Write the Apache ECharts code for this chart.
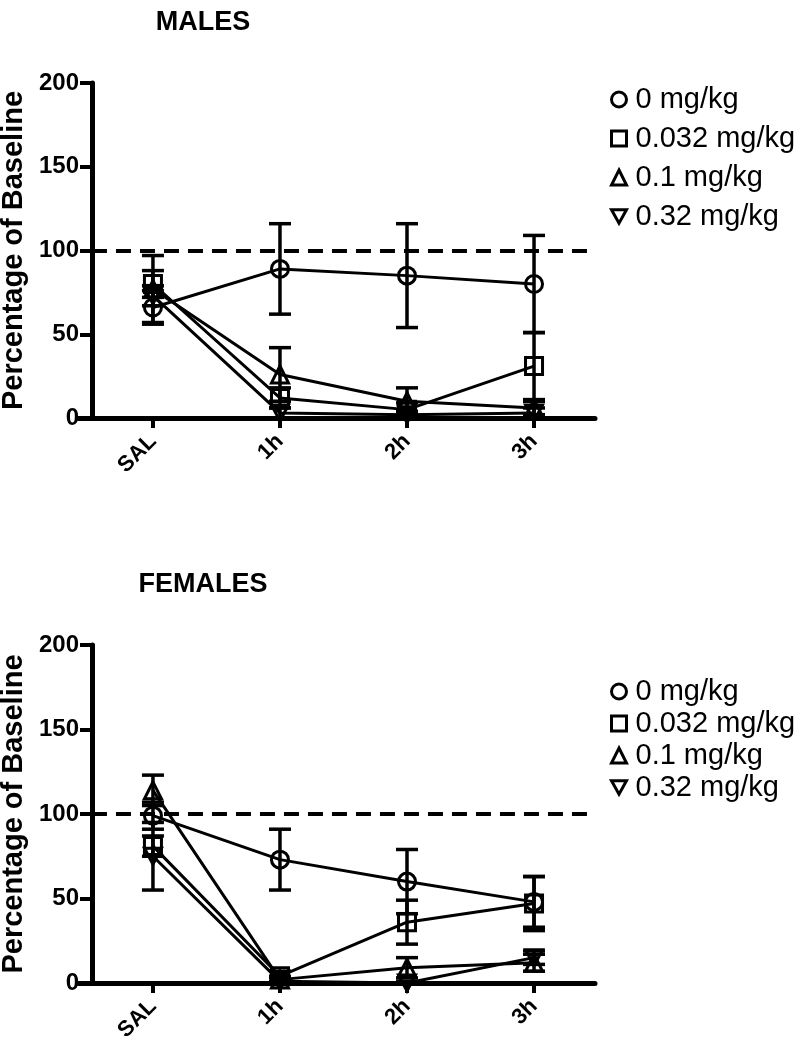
<!DOCTYPE html>
<html>
<head>
<meta charset="utf-8">
<script src="https://cdn.jsdelivr.net/npm/echarts@6/dist/echarts.min.js"></script>
<style>
html,body{margin:0;padding:0;background:#fff;}
#c{width:810px;height:1050px;}
</style>
</head>
<body>
<div id="c"></div>
<script>
// ---- data ----
var categories = ['SAL', '1h', '2h', '3h'];
var doseNames = ['0 mg/kg', '0.032 mg/kg', '0.1 mg/kg', '0.32 mg/kg'];
var yTicks = [0, 50, 100, 150, 200];

// Males: mean and SEM
var males_0 = [66, 89, 85, 80];
var males_0_err = [10, 27, 31, 29];
var males_032 = [80, 12, 5, 31];
var males_032_err = [8, 6, 4, 20];
var males_01 = [77, 26, 10, 6];
var males_01_err = [20, 16, 8, 4];
var males_32 = [73, 3, 2, 3];
var males_32_err = [6, 3, 2, 3];

// Females: mean and SEM
var females_0 = [99, 73, 60, 48];
var females_0_err = [8, 18, 19, 15];
var females_032 = [81, 4, 36, 47];
var females_032_err = [6, 3, 13, 16];
var females_01 = [114, 2, 9, 12];
var females_01_err = [9, 2, 6, 5];
var females_32 = [75, 1, 0, 15];
var females_32_err = [20, 2, 1, 4];

var baseline = 100;

// ---- build ----
var FONT = 'Liberation Sans, Arial, Helvetica, sans-serif';
var downTri = 'path://M0,0 L10,0 L5,9 Z';
var symbols = ['circle', 'rect', 'triangle', downTri];
var XMIN = -0.59, XMAX = 3.48;

var groups = [
  {means: [males_0, males_032, males_01, males_32], errs: [males_0_err, males_032_err, males_01_err, males_32_err]},
  {means: [females_0, females_032, females_01, females_32], errs: [females_0_err, females_032_err, females_01_err, females_32_err]}
];

var grids = [
  {left: 78, top: 83, width: 517, height: 335, outerBoundsMode: 'none', containLabel: false},
  {left: 78, top: 645, width: 517, height: 338, outerBoundsMode: 'none', containLabel: false}
];

var xAxes = [], yAxes = [], series = [];
grids.forEach(function (g, gi) {
  xAxes.push({
    gridIndex: gi, type: 'value', min: XMIN, max: XMAX,
    axisLine: {show: true, onZero: false, lineStyle: {color: '#000', width: 5}},
    axisTick: {show: true, customValues: [0, 1, 2, 3], length: 10, lineStyle: {color: '#000', width: 4}},
    axisLabel: {
      customValues: [0, 1, 2, 3], rotate: 45, margin: 20,
      formatter: function (v) { return categories[Math.round(v)]; },
      color: '#000', fontWeight: 'bold', fontSize: 22, fontFamily: FONT
    },
    splitLine: {show: false}
  });
  yAxes.push({
    gridIndex: gi, type: 'value', min: 0, max: 200, interval: 50, offset: -14,
    name: 'Percentage of Baseline', nameLocation: 'middle', nameGap: 59,
    nameTextStyle: {color: '#000', fontWeight: 'bold', fontSize: 29, fontFamily: FONT},
    axisLine: {show: true, onZero: false, lineStyle: {color: '#000', width: 5}},
    axisTick: {show: true, length: 12, lineStyle: {color: '#000', width: 4}},
    axisLabel: {color: '#000', fontWeight: 'bold', fontSize: 24, fontFamily: FONT, margin: 13,
      formatter: function (v) { return yTicks.indexOf(v) >= 0 ? String(v) : ''; }},
    splitLine: {show: false}
  });

  var grp = groups[gi];
  for (var s = 0; s < 4; s++) {
    var errData = [];
    var lineData = [];
    for (var i = 0; i < categories.length; i++) {
      var m = grp.means[s][i], e = grp.errs[s][i];
      lineData.push([i, m]);
      errData.push([i, Math.max(0, m - e), m + e]);
    }
    series.push({
      type: 'custom', xAxisIndex: gi, yAxisIndex: gi, silent: true, z: 2,
      name: doseNames[s],
      data: errData,
      encode: {x: 0, y: [1, 2]},
      renderItem: function (params, api) {
        var x = api.value(0);
        var lo = api.coord([x, api.value(1)]);
        var hi = api.coord([x, api.value(2)]);
        var half = 11;
        var st = {stroke: '#000', lineWidth: 3.5};
        return {
          type: 'group', children: [
            {type: 'line', shape: {x1: lo[0], y1: lo[1], x2: hi[0], y2: hi[1]}, style: st},
            {type: 'line', shape: {x1: hi[0] - half, y1: hi[1], x2: hi[0] + half, y2: hi[1]}, style: st},
            {type: 'line', shape: {x1: lo[0] - half, y1: lo[1], x2: lo[0] + half, y2: lo[1]}, style: st}
          ]
        };
      }
    });
    var ser = {
      type: 'line', xAxisIndex: gi, yAxisIndex: gi, z: 3,
      name: doseNames[s],
      data: lineData,
      symbol: symbols[s],
      symbolSize: s === 3 ? [17, 16] : 17,
      showAllSymbol: true,
      lineStyle: {color: '#000', width: 3},
      itemStyle: {color: 'none', borderColor: '#000', borderWidth: 3},
      emphasis: {disabled: true},
      animation: false
    };
    if (s === 0) {
      ser.markLine = {
        silent: true, symbol: ['none', 'none'], animation: false,
        label: {show: false},
        lineStyle: {color: '#000', width: 4, type: [15, 9]},
        data: [[{coord: [-0.48, baseline]}, {coord: [XMAX, baseline]}]]
      };
    }
    series.push(ser);
  }
});

var legendData = doseNames.map(function (n, i) { return {name: n, icon: symbols[i]}; });
function mkLegend(top, gap) {
  return {
    orient: 'vertical', left: 604, top: top, itemGap: gap,
    itemWidth: 15, itemHeight: 15,
    data: legendData,
    selectedMode: false,
    itemStyle: {color: 'none', borderColor: '#000', borderWidth: 3},
    textStyle: {color: '#000', fontSize: 29, lineHeight: 28, fontFamily: FONT, padding: [0, 0, 0, 4]}
  };
}

var option = {
  animation: false,
  backgroundColor: '#fff',
  title: [
    {text: 'MALES', left: 198, top: 4, textAlign: 'center',
      textStyle: {color: '#000', fontWeight: 'bold', fontSize: 27, fontFamily: FONT}},
    {text: 'FEMALES', left: 198, top: 566, textAlign: 'center',
      textStyle: {color: '#000', fontWeight: 'bold', fontSize: 27, fontFamily: FONT}}
  ],
  legend: [mkLegend(80, 10), mkLegend(672, 3)],
  grid: grids,
  xAxis: xAxes,
  yAxis: yAxes,
  series: series
};

var chart = echarts.init(document.getElementById('c'), null, {renderer: 'canvas'});
chart.setOption(option);
</script>
</body>
</html>
